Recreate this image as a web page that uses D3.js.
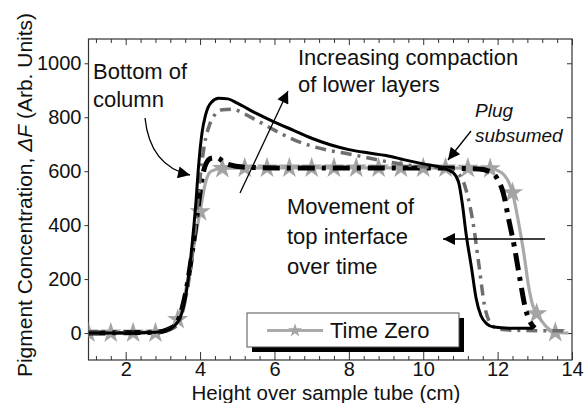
<!DOCTYPE html>
<html><head><meta charset="utf-8">
<script src="https://cdn.jsdelivr.net/npm/d3@7"></script>
<style>
body{margin:0;background:#fff}
text{font-family:"Liberation Sans",Arial,Helvetica,sans-serif;fill:#111}
</style>
</head><body>
<svg id="c" width="588" height="403"></svg>
<script>
// ---- data ----
const timeZeroX = [1.0,1.6,2.2,2.8,3.1,3.4,3.6,3.8,4.0,4.15,4.3,4.6,5.2,6.4,7.6,8.8,10.0,11.2,11.8,12.1,12.4,12.55,12.7,12.85,12.95,13.05,13.3,13.6,13.9];
const timeZeroY = [0,0,0,2,10,50,150,300,450,560,600,610,612,612,612,612,612,611,609,595,520,420,300,160,100,72,25,2,0];
const starX = [1.0,1.6,2.2,2.8,3.4,4.0,4.6,5.2,5.8,6.4,7.0,7.6,8.2,8.8,9.4,10.0,10.6,11.2,11.8,12.4,13.05,13.55];
const starY = [0,0,0,0,50,450,610,612,612,612,612,612,612,612,612,612,612,611,609,520,72,2];

const blackSolidX = [1.0,2.0,2.8,3.1,3.3,3.5,3.65,3.78,3.88,3.96,4.05,4.15,4.3,4.5,4.75,5.0,5.5,6.0,6.5,7.0,7.5,8.0,8.5,9.0,9.5,10.0,10.5,10.8,10.95,11.05,11.15,11.3,11.42,11.55,11.7,11.9,12.3,12.95];
const blackSolidY = [0,0,3,10,25,70,170,320,470,620,740,810,855,870,868,852,815,782,752,722,698,680,668,658,642,627,613,595,560,480,370,240,130,65,35,22,18,18];

const grayDashX = [1.0,2.8,3.3,3.6,3.8,3.92,4.02,4.12,4.25,4.4,4.6,4.85,5.2,5.5,6.0,6.5,7.0,7.5,8.0,8.5,9.0,9.5,10.0,10.5,10.85,11.05,11.2,11.35,11.5,11.65,11.8,12.0,12.5,13.9];
const grayDashY = [0,3,20,120,300,460,600,700,770,810,828,830,812,790,752,718,693,676,664,650,636,624,616,610,598,570,505,400,250,100,38,16,10,8];

const blackDashX = [1.0,2.8,3.3,3.6,3.8,3.95,4.05,4.15,4.3,4.45,4.7,5.2,6.0,8.0,10.0,11.5,11.8,12.0,12.15,12.3,12.45,12.6,12.75,12.9,13.0];
const blackDashY = [0,3,25,140,310,470,570,625,648,650,628,615,612,612,612,608,598,570,520,420,320,200,90,35,18];

const xMajor = [2,4,6,8,10,12,14];
const yMajor = [0,200,400,600,800,1000];
const legendLabels = ["Time Zero"];

// ---- layout ----
const svg = d3.select("#c");
const L = 88.5, R = 572, T = 39, B = 360;
const x = d3.scaleLinear([1,14],[L,R]);
const y = d3.scaleLinear([-100,1090],[B,T]);
const xMinor = d3.range(3,36).map(k => +(k*0.4).toFixed(1)).filter(v => v>1 && v<14 && Math.abs(v/2-Math.round(v/2))>1e-6);

const pts = (xs, ys) => xs.map((v,i)=>[v, ys[i]]);

const defs = svg.append("defs");
defs.append("clipPath").attr("id","clip")
  .append("rect").attr("x",L).attr("y",T).attr("width",R-L).attr("height",B-T);
defs.append("marker").attr("id","ah").attr("viewBox","0 0 10 10")
  .attr("refX",10).attr("refY",5).attr("markerWidth",16).attr("markerHeight",12)
  .attr("markerUnits","userSpaceOnUse").attr("orient","auto")
  .append("path").attr("d","M0,0L10,5L0,10z").attr("fill","#000");

// axes
const axisStyle = g => { g.select(".domain").remove(); g.selectAll("line").attr("stroke","#333"); g.selectAll("text").attr("font-size",20).attr("fill","#111").style("font-family","'Liberation Sans',Arial,sans-serif"); };

svg.append("g").attr("transform",`translate(0,${B})`)
  .call(d3.axisBottom(x).tickValues(xMajor).tickSizeInner(-8).tickSizeOuter(0).tickPadding(2).tickFormat(d3.format("d")))
  .call(axisStyle);
svg.append("g").attr("transform",`translate(0,${B})`)
  .call(d3.axisBottom(x).tickValues(xMinor).tickSizeInner(-4).tickSizeOuter(0).tickFormat(""))
  .call(axisStyle);
svg.append("g").attr("transform",`translate(0,${T})`)
  .call(d3.axisTop(x).tickValues(xMajor).tickSizeInner(-6).tickSizeOuter(0).tickFormat(""))
  .call(axisStyle);
svg.append("g").attr("transform",`translate(0,${T})`)
  .call(d3.axisTop(x).tickValues(xMinor).tickSizeInner(-4).tickSizeOuter(0).tickFormat(""))
  .call(axisStyle);
svg.append("g").attr("transform",`translate(${L},0)`)
  .call(d3.axisLeft(y).tickValues(yMajor).tickSizeInner(4).tickSizeOuter(0).tickPadding(3).tickFormat(d3.format("d")))
  .call(axisStyle);
svg.append("g").attr("transform",`translate(${R},0)`)
  .call(d3.axisRight(y).tickValues(yMajor).tickSizeInner(-5).tickSizeOuter(0).tickFormat(""))
  .call(axisStyle);

svg.append("rect").attr("x",L).attr("y",T).attr("width",R-L).attr("height",B-T)
  .attr("fill","none").attr("stroke","#333").attr("stroke-width",1.2);

// lines
const line = d3.line().x(d=>x(d[0])).y(d=>y(d[1])).curve(d3.curveMonotoneX);
const plot = svg.append("g").attr("clip-path","url(#clip)");

plot.append("path").attr("d",line(pts(timeZeroX,timeZeroY)))
  .attr("fill","none").attr("stroke","#a9a9a9").attr("stroke-width",3.2);
plot.selectAll(".star").data(pts(starX,starY)).join("path")
  .attr("transform",d=>`translate(${x(d[0])},${y(d[1])})`)
  .attr("d",d3.symbol(d3.symbolStar,140)).attr("fill","#a4a4a4");

plot.append("path").attr("d",line(pts(blackDashX,blackDashY)))
  .attr("fill","none").attr("stroke","#000").attr("stroke-width",5)
  .attr("stroke-dasharray","17,7,4,7");
plot.append("path").attr("d",line(pts(grayDashX,grayDashY)))
  .attr("fill","none").attr("stroke","#6e6e6e").attr("stroke-width",3.5)
  .attr("stroke-dasharray","11,6,3,6");
plot.append("path").attr("d",line(pts(blackSolidX,blackSolidY)))
  .attr("fill","none").attr("stroke","#000").attr("stroke-width",3);

// annotations
const txt = (s,tx,ty,size,italic) => svg.append("text").attr("x",tx).attr("y",ty)
  .attr("font-size",size).attr("font-style",italic?"italic":null).text(s);
txt("Bottom of",93,79,22); txt("column",93,107,22);
txt("Increasing compaction",298,65,22); txt("of lower layers",298,92,22);
txt("Plug",475,117,19,true); txt("subsumed",475,142,19,true);
txt("Movement of",287,214,22); txt("top interface",287,244,22); txt("over time",287,274,22);

const arrow = d => svg.append("path").attr("d",d).attr("fill","none")
  .attr("stroke","#000").attr("stroke-width",1.3).attr("marker-end","url(#ah)");
arrow("M145,118 Q150,166 190,175");
arrow("M240,193 L288,91");
arrow("M471,131 L448,160");
arrow("M545,239 L443,239");

// legend
const lg = svg.append("g");
lg.append("rect").attr("x",252).attr("y",318).attr("width",212).attr("height",34).attr("fill","#000");
lg.append("rect").attr("x",247).attr("y",313).attr("width",212).attr("height",34).attr("fill","#fff").attr("stroke","#555");
legendLabels.forEach((lab,i)=>{
  lg.append("line").attr("x1",267).attr("x2",323).attr("y1",330.5).attr("y2",330.5).attr("stroke","#aaa").attr("stroke-width",3);
  lg.append("path").attr("transform","translate(295,330.5)").attr("d",d3.symbol(d3.symbolStar,60)).attr("fill","#a4a4a4");
  lg.append("text").attr("x",330).attr("y",338).attr("font-size",22).text(lab);
});

// axis titles
svg.append("text").attr("x",326).attr("y",399.5).attr("text-anchor","middle").attr("font-size",20.5)
  .text("Height over sample tube (cm)");
const yt = svg.append("text").attr("transform","translate(32,195) rotate(-90)")
  .attr("text-anchor","middle").attr("font-size",21);
yt.append("tspan").text("Pigment Concentration, ");
yt.append("tspan").attr("font-style","italic").text("ΔF");
yt.append("tspan").text(" (Arb. Units)");
</script>
</body></html>
